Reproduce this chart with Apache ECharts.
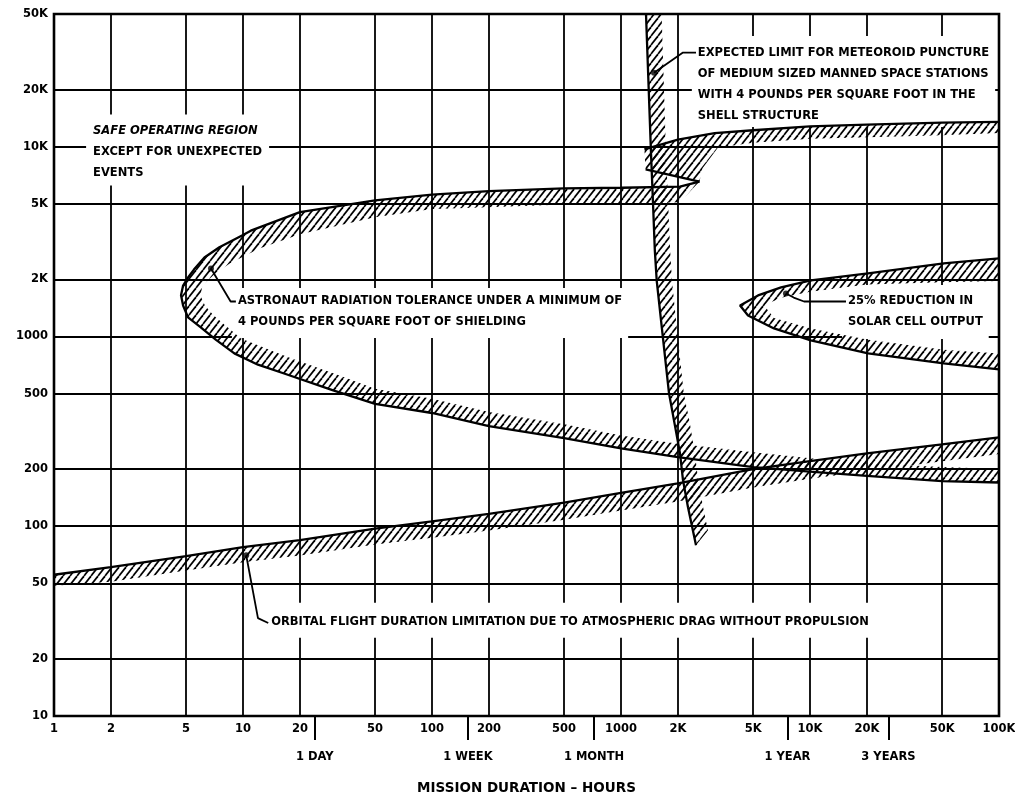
<!DOCTYPE html>
<html><head><meta charset="utf-8">
<script src="https://cdn.jsdelivr.net/npm/echarts@6/dist/echarts.min.js"></script>
<style>html,body{margin:0;padding:0;background:#fff}#chart{width:1015px;height:796px}</style>
</head><body><div id="chart"></div>
<script>
// ---------- axis ticks ----------
const xTicks = [1,2,5,10,20,50,100,200,500,1000,2000,5000,10000,20000,50000,100000];
const xTickLabels = ['1','2','5','10','20','50','100','200','500','1000','2K','5K','10K','20K','50K','100K'];
const yTicks = [10,20,50,100,200,500,1000,2000,5000,10000,20000,50000];
const yTickLabels = ['10','20','50','100','200','500','1000','2K','5K','10K','20K','50K'];
const periodTicks = [24,155,720,7600,26000];
const periodLabels = ['1 DAY','1 WEEK','1 MONTH','1 YEAR','3 YEARS'];

// ---------- orbital drag band ----------
const dragTop = [[1,55.5],[2,60.8],[5,69.6],[10,77.5],[20,84.4],[50,97],[100,106],[200,116],[500,133],[1000,150],[2000,168],[5000,200],[10000,220],[20000,242],[50000,270],[100000,294]];
const dragBottom = [[1,48.5],[2,51],[5,58.5],[10,64.5],[20,70],[50,80],[100,87],[200,95],[500,108],[1000,121],[2000,135],[5000,160],[10000,178],[20000,195],[50000,220],[100000,240]];

// ---------- astronaut radiation tolerance (C shape) ----------
const radOuter = [[2600,6550],[2050,6150],[1000,6075],[500,6025],[200,5830],[100,5594],[50,5210],[20,4518],[11,3610],[10,3420],[7.5,2950],[6.25,2606],[5.5,2250],[5.12,2043],[4.82,1853],[4.7,1650],[4.82,1456],[5.12,1259],[6.0,1114],[7.2,960],[9,814],[12,710],[16.5,638],[30,520],[50,441],[100,395],[200,337],[500,291],[1000,257],[2000,231],[5000,205],[10000,194],[20000,184],[50000,173],[100000,170]];
const radInner = [[2600,6550],[2050,5100],[1000,5000],[500,4950],[200,4800],[100,4700],[50,4250],[20,3450],[12.2,2904],[8.5,2420],[6.94,2094],[6.1,1850],[5.95,1645],[6.3,1450],[7.0,1290],[9.75,976],[17.5,775],[31.3,631],[50,530],[100,470],[200,400],[500,345],[1000,301],[2000,272],[5000,245],[10000,228],[20000,215],[50000,205],[100000,200]];

// ---------- outer zone band near 10K and wedge ----------
const beltTop = [[1330,9670],[2000,10900],[3130,11770],[5000,12200],[10000,12800],[20000,13070],[50000,13400],[100000,13500]];
const beltBottom = [[100000,11800],[50000,11500],[20000,11200],[10000,11000],[5000,10500],[3260,9900],[2700,7700],[2600,6550],[1350,7600]];
const beltWedgeEdge = [[2600,6550],[1350,7600]];

// ---------- meteoroid puncture limit ----------
const metLeft = [[1356,50000],[1441,9300],[1480,4780],[1510,2840],[1545,1971],[1668,976],[1795,501],[1907,361],[2052,242],[2128,175],[2262,126],[2494,79.4]];
const metRight = [[1640,50000],[1730,9300],[1780,4780],[1820,2840],[1860,1971],[2000,976],[2150,501],[2300,361],[2460,242],[2560,175],[2720,126],[2884,95]];

// ---------- solar cell output band ----------
const solarTop = [[100000,2575],[51000,2424],[20300,2148],[10100,1972],[7030,1812],[5310,1644],[4265,1456]];
const solarBottom = [[4265,1456],[4700,1290],[6450,1102],[10100,953],[20300,814],[51000,721],[100000,670]];
const solarInnerUpper = [[100000,1960],[50000,1930],[20000,1880],[10000,1720],[7030,1600],[5800,1470]];
const solarInnerLower = [[5800,1430],[6450,1250],[10100,1100],[20300,960],[51000,850],[100000,814]];

// ---------- annotations ----------
const annotationTexts = [
  ['EXPECTED LIMIT FOR METEOROID PUNCTURE','OF MEDIUM SIZED MANNED SPACE STATIONS','WITH 4 POUNDS PER SQUARE FOOT IN THE','SHELL STRUCTURE'],
  ['SAFE OPERATING REGION','EXCEPT FOR UNEXPECTED','EVENTS'],
  ['ASTRONAUT RADIATION TOLERANCE UNDER A MINIMUM OF','4 POUNDS PER SQUARE FOOT OF SHIELDING'],
  ['25% REDUCTION IN','SOLAR CELL OUTPUT'],
  ['ORBITAL FLIGHT DURATION LIMITATION DUE TO ATMOSPHERIC DRAG WITHOUT PROPULSION']
];
const annotationAnchors = [[2550,31300],[1.61,12100],[9.4,1528],[15900,1528],[14.1,31.2]];
const leaderMeteoroid = [[2494,31300],[2128,31300],[1495,24500]];
const leaderAstronaut = [[9.17,1528],[8.6,1528],[6.77,2280]];
const leaderSolar = [[15500,1528],[9300,1528],[8200,1603],[7460,1683]];
const leaderOrbital = [[13.6,30.9],[12.0,32.8],[10.4,70.3]];

// ---------- build ----------
const FONT = "'DejaVu Sans', 'Liberation Sans', sans-serif";
function makeHatch(){
  const w=7,h=9,c=document.createElement('canvas'); c.width=w; c.height=h;
  const g=c.getContext('2d'); g.strokeStyle='#000'; g.lineWidth=1.7;
  for (const dx of [-w,0,w]) { g.beginPath(); g.moveTo(dx,h); g.lineTo(dx+w,0); g.stroke(); }
  return c;
}
const hatch = makeHatch();
const polys = [
  dragTop.concat(dragBottom.slice().reverse()),
  radOuter.concat(radInner.slice().reverse()),
  beltTop.concat(beltBottom),
  solarTop.concat(solarBottom.slice(1), solarInnerLower.slice().reverse(), solarInnerUpper.slice().reverse()),
  metLeft.concat(metRight.slice().reverse())
];
const solidEdges = [dragTop, radOuter, beltTop, beltWedgeEdge, solarTop.concat(solarBottom.slice(1)), metLeft];
const leaders = [leaderMeteoroid, leaderAstronaut, leaderSolar, leaderOrbital];
const paddings = [[6,6,1,6],[6,7,2,7],[3,6,5,6],[6,6,6,6],[9,6,5,6]];

function labelFor(ticks, labels){
  return function(v){
    let best=0, bd=Infinity;
    ticks.forEach((t,i)=>{ const d=Math.abs(Math.log10(v)-Math.log10(t)); if(d<bd){bd=d;best=i;} });
    return labels[best];
  };
}
const tickFont = {color:'#000', fontFamily:FONT, fontWeight:'bold', fontSize:11.5};

const series = [];
// text boxes (white background breaks the grid lines), below the bands
series.push({
  type:'custom', coordinateSystem:'cartesian2d', silent:true, z:2, clip:false,
  data: annotationAnchors,
  renderItem(params, api){
    const i = params.dataIndex;
    const c = api.coord(annotationAnchors[i]);
    const lines = annotationTexts[i];
    const pad = paddings[i];
    let text = lines.join('\n');
    const rich = {};
    if (i === 1) { text = '{it|' + lines[0] + '}\n' + lines.slice(1).join('\n'); rich.it = {fontStyle:'italic', fontWeight:'bold', fontFamily:FONT, fontSize:11.5, fill:'#000', lineHeight:21}; }
    return {type:'text', x:c[0]-pad[3], y:c[1]-10.5-pad[0], style:{
      text, rich, fill:'#000', font:'bold 11.5px ' + FONT, lineHeight:21,
      align:'left', verticalAlign:'top', backgroundColor:'#fff', padding:pad
    }};
  }
});
series.push({
  type:'custom', coordinateSystem:'cartesian2d', silent:true, z:3, clip:true,
  data: polys.map(p => [p[0][0], p[0][1]]),
  renderItem(params, api){
    const pts = polys[params.dataIndex].map(p => api.coord(p));
    return {type:'polygon', shape:{points:pts}, style:{fill:{image:hatch, repeat:'repeat'}, stroke:null}};
  }
});
solidEdges.forEach(e => series.push({
  type:'line', data:e, symbol:'none', silent:true, z:4, clip:true,
  lineStyle:{color:'#000', width:2.3}
}));
leaders.forEach(l => series.push({
  type:'line', data:l, symbol:'none', silent:true, z:6, clip:false,
  lineStyle:{color:'#000', width:1.8}
}));
series.push({
  type:'scatter', data: leaders.map(l => l[l.length-1]), symbol:'circle', symbolSize:6,
  itemStyle:{color:'#000'}, silent:true, z:7
});

const chart = echarts.init(document.getElementById('chart'), null, {renderer:'canvas'});
chart.setOption({
  animation:false,
  backgroundColor:'#fff',
  grid:{left:54, right:16, top:14, bottom:80, outerBoundsMode:'none', containLabel:false,
        show:true, borderColor:'#000', borderWidth:2.6, backgroundColor:'transparent'},
  xAxis:[{
    type:'log', logBase:10, min:1, max:100000, position:'bottom',
    axisLine:{show:false}, axisTick:{show:false, customValues:xTicks},
    axisLabel:Object.assign({customValues:xTicks, formatter:labelFor(xTicks,xTickLabels), margin:7}, tickFont),
    splitLine:{show:true, lineStyle:{color:'#000', width:1.8}},
    name:'MISSION DURATION – HOURS', nameLocation:'middle', nameGap:65,
    nameTextStyle:{color:'#000', fontFamily:FONT, fontWeight:'bold', fontSize:13.5}
  },{
    type:'log', logBase:10, min:1, max:100000, position:'bottom', offset:0,
    axisLine:{show:false},
    axisTick:{show:true, customValues:periodTicks, length:24, lineStyle:{color:'#000', width:2}},
    axisLabel:Object.assign({customValues:periodTicks, formatter:labelFor(periodTicks,periodLabels), margin:35}, tickFont),
    splitLine:{show:false}
  }],
  yAxis:{
    type:'log', logBase:10, min:10, max:50000,
    axisLine:{show:false}, axisTick:{show:false, customValues:yTicks},
    axisLabel:Object.assign({customValues:yTicks, formatter:labelFor(yTicks,yTickLabels), margin:6}, tickFont),
    splitLine:{show:true, lineStyle:{color:'#000', width:1.8}}
  },
  series
});
</script></body></html>
